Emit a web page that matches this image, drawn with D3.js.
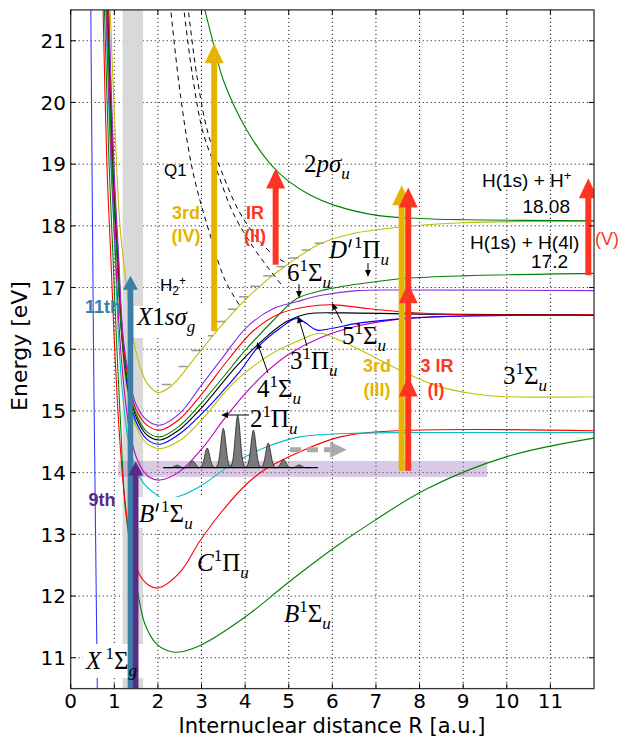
<!DOCTYPE html>
<html>
<head>
<meta charset="utf-8">
<script src="https://cdn.jsdelivr.net/npm/d3@7"></script>
<style>
  body { margin: 0; background: #fff; }
  svg { display: block; }
</style>
</head>
<body>
<script>
  // ---- data: [R (a.u.), E (eV)] ----
  const xGround = [[0.46,21.6],[0.5,18],[0.53,15.5],[0.57,13],[0.61,10.5]];
  const bState = [[0.77,21.6],[0.88,19],[0.97,17.5],[1.05,16.15],[1.15,14.7],[1.25,13.45],[1.47,12.36],[1.7,11.55],[1.97,11.22],[2.2,11.12],[2.43,11.09],[2.97,11.2],[4.0,11.66],[4.99,12.22],[6.02,12.77],[6.98,13.23],[8.17,13.74],[10,14.26],[12,14.56]];
  const cState = [[0.74,21.6],[0.83,19],[0.92,17.5],[1.0,16.15],[1.1,14.8],[1.22,13.7],[1.32,13.12],[1.45,12.62],[1.6,12.32],[1.8,12.17],[2.0,12.13],[2.5,12.38],[2.97,12.9],[3.42,13.33],[4.04,13.82],[4.5,14.07],[5.26,14.34],[6.18,14.58],[7.55,14.68],[12,14.68]];
  const bpState = [[0.8,21.6],[0.92,19],[1.02,17.5],[1.1,16.15],[1.2,15.2],[1.32,14.53],[1.5,14.05],[1.67,13.83],[1.93,13.66],[2.12,13.58],[2.5,13.62],[2.97,13.78],[3.73,14.15],[4.5,14.42],[5.26,14.58],[6.63,14.64],[8,14.65],[12,14.65]];
  const magState = [[0.81,21.6],[0.93,19],[1.03,17.5],[1.13,16.15],[1.25,15.2],[1.4,14.5],[1.6,14.1],[1.8,13.93],[2.05,13.88],[2.5,14.02],[3.0,14.38],[3.5,14.85],[4.0,15.28],[4.5,15.64],[5.0,15.92],[5.7,16.18],[6.6,16.38],[7.7,16.5],[9,16.54],[12,16.55]];
  const s3State = [[0.83,21.6],[0.95,19],[1.06,17.5],[1.17,16.15],[1.3,15.3],[1.5,14.75],[1.75,14.47],[2.05,14.39],[2.5,14.52],[2.97,14.83],[3.73,15.45],[4.5,15.88],[5.26,16.15],[5.72,16.26],[6.18,16.14],[6.94,15.88],[7.7,15.61],[8.47,15.39],[9.23,15.28],[10,15.23],[12,15.23]];
  const s4State = [[0.84,21.6],[0.96,19],[1.07,17.5],[1.18,16.15],[1.31,15.35],[1.5,14.82],[1.75,14.54],[2.05,14.46],[2.5,14.63],[3.04,14.98],[3.5,15.33],[3.88,15.64],[4.3,16.04],[4.8,16.34],[5.18,16.5],[5.4,16.42],[5.64,16.31],[6.0,16.34],[6.56,16.42],[7.7,16.5],[9,16.54],[12,16.55]];
  const p3State = [[0.85,21.6],[0.97,19],[1.08,17.5],[1.19,16.15],[1.32,15.4],[1.5,14.9],[1.75,14.61],[2.05,14.53],[2.5,14.7],[3.0,15.05],[3.81,15.73],[4.5,16.21],[4.95,16.45],[5.41,16.57],[6.18,16.59],[8,16.57],[12,16.56]];
  const dpState = [[0.83,21.6],[0.95,19],[1.06,17.5],[1.18,16.15],[1.31,15.45],[1.5,14.95],[1.75,14.66],[2.05,14.58],[2.5,14.76],[3.0,15.13],[3.5,15.55],[4.0,15.98],[4.65,16.47],[5.18,16.82],[5.87,16.97],[6.94,17.09],[7.7,17.15],[9,17.19],[12,17.23]];
  const s5State = [[0.86,21.6],[0.98,19],[1.09,17.5],[1.2,16.15],[1.33,15.5],[1.5,15.02],[1.75,14.77],[2.05,14.69],[2.5,14.87],[3.0,15.27],[3.61,15.83],[4.19,16.3],[4.8,16.58],[5.41,16.69],[6.02,16.72],[6.79,16.66],[7.7,16.6],[9,16.56],[12,16.56]];
  const s6State = [[0.87,21.6],[0.99,19],[1.1,17.5],[1.21,16.15],[1.34,15.55],[1.5,15.1],[1.75,14.85],[2.05,14.77],[2.5,14.96],[2.97,15.39],[3.5,15.88],[4.04,16.36],[4.65,16.66],[5.18,16.77],[5.72,16.87],[6.56,16.95],[7.7,16.96],[12,16.95]];
  const ionGround = [[0.9,21.6],[1.02,19.5],[1.13,18],[1.3,16.9],[1.44,16.15],[1.6,15.7],[1.75,15.45],[2.0,15.3],[2.3,15.4],[2.97,15.97],[3.5,16.42],[4.0,16.8],[4.5,17.12],[5.0,17.39],[5.72,17.71],[6.5,17.88],[7.55,17.98],[9,18.05],[12,18.08]];
  const ion2p = [[3.04,21.6],[3.27,20.96],[3.5,20.36],[4.04,19.55],[4.57,19.01],[5.0,18.72],[5.49,18.5],[6.02,18.34],[7.02,18.17],[8.01,18.12],[9,18.1],[12,18.08]];
  const q1a = [[2.28,21.6],[2.52,20.1],[2.81,18.85],[3.22,17.8],[3.54,17.12],[3.9,16.68]];
  const q1b = [[2.58,21.6],[2.8,20.4],[3.04,19.5],[3.35,18.9],[3.73,18.2],[4.19,17.65],[4.55,17.3],[4.85,17.03]];
  const q1c = [[2.68,21.6],[2.9,20.4],[3.15,19.5],[3.45,18.9],[3.85,18.25],[4.3,17.78],[4.7,17.5],[5.0,17.38]];

  const curves = [
    {pts: xGround, color: '#3a3aff'},
    {pts: bState, color: '#008000'},
    {pts: cState, color: '#ff0000'},
    {pts: bpState, color: '#00bfbf'},
    {pts: magState, color: '#bf00bf'},
    {pts: s3State, color: '#bfbf00'},
    {pts: ionGround, color: '#bfbf00'},
    {pts: ion2p, color: '#008000'},
    {pts: s4State, color: '#0000ff'},
    {pts: p3State, color: '#000000'},
    {pts: dpState, color: '#008000'},
    {pts: s5State, color: '#ff0000'},
    {pts: s6State, color: '#8a2be2'}
  ];
  const dashedCurves = [q1a, q1b, q1c];

  // H2+ vibrational level marks (right end on the curve)
  const ionLevelE = [15.43, 15.72, 15.98, 16.22, 16.45, 16.65, 16.85, 17.02, 17.19, 17.34, 17.48, 17.61, 17.72];
  const ionLevelR = [2.3, 2.68, 2.98, 3.27, 3.55, 3.81, 4.07, 4.33, 4.62, 4.92, 5.22, 5.5, 5.8];

  // wave packet
  const packetBase = 14.08;
  const packetR = [2.44, 2.8, 3.13, 3.5, 3.83, 4.19, 4.53, 4.88, 5.24];
  const packetH = [0.04, 0.11, 0.32, 0.64, 0.85, 0.61, 0.4, 0.13, 0.045];
  const packetRange = [2.12, 5.67];

  // photon arrows
  const arrowR    = [3.29, 4.7, 7.59, 7.74, 11.87];
  const arrowFrom = [16.29, 17.37, 14.03, 14.03, 17.2];
  const arrowTips = [[20.96], [18.93], [18.66], [18.62, 17.07, 15.56], [18.77]];
  const arrowKind = ['yellow', 'red', 'yellow', 'red', 'red'];
  const pulseR    = [1.37, 1.49];
  const pulseTip  = [17.19, 14.18];

  const xTicks = [0,1,2,3,4,5,6,7,8,9,10,11];
  const yTicks = [11,12,13,14,15,16,17,18,19,20,21];

  // ---- layout ----
  const W = 628, H = 738;
  const x = d3.scaleLinear().domain([0, 12]).range([70.7, 594]);
  const y = d3.scaleLinear().domain([10.5, 21.5]).range([688.6, 9.9]);

  const svg = d3.select('body').append('svg').attr('width', W).attr('height', H);
  svg.append('defs').append('clipPath').attr('id', 'plot')
    .append('rect').attr('x', x(0)).attr('y', y(21.5)).attr('width', x(12) - x(0)).attr('height', y(10.5) - y(21.5));

  const plot = svg.append('g').attr('clip-path', 'url(#plot)');

  // grid
  plot.selectAll('.gx').data(xTicks.slice(1)).enter().append('line')
    .attr('x1', d => x(d)).attr('x2', d => x(d)).attr('y1', y(21.5)).attr('y2', y(10.5))
    .attr('stroke', '#000').attr('stroke-width', 1).attr('stroke-dasharray', '1,3');
  plot.selectAll('.gy').data(yTicks).enter().append('line')
    .attr('y1', d => y(d)).attr('y2', d => y(d)).attr('x1', x(0)).attr('x2', x(12))
    .attr('stroke', '#000').attr('stroke-width', 1).attr('stroke-dasharray', '1,3');

  // shaded bands
  plot.append('rect').attr('x', x(1.19)).attr('width', x(1.66) - x(1.19))
    .attr('y', y(21.5)).attr('height', y(10.5) - y(21.5)).attr('fill', '#d9d9d9');
  plot.append('rect').attr('x', x(1.09)).attr('width', x(9.55) - x(1.09))
    .attr('y', y(14.19)).attr('height', y(13.93) - y(14.19)).attr('fill', 'rgba(160,120,190,0.4)');

  const line = d3.line().x(d => x(d[0])).y(d => y(d[1])).curve(d3.curveCatmullRom.alpha(0.5));

  plot.selectAll('.curve').data(curves).enter().append('path')
    .attr('d', d => line(d.pts)).attr('fill', 'none')
    .attr('stroke', d => d.color).attr('stroke-width', 1.1);

  plot.selectAll('.q1').data(dashedCurves).enter().append('path')
    .attr('d', d => line(d)).attr('fill', 'none')
    .attr('stroke', '#000').attr('stroke-width', 1).attr('stroke-dasharray', '5,4');

  // vibrational level marks of H2+
  plot.selectAll('.lvl').data(ionLevelE).enter().append('line')
    .attr('x1', (d, i) => x(ionLevelR[i]) - 9).attr('x2', (d, i) => x(ionLevelR[i]))
    .attr('y1', d => y(d)).attr('y2', d => y(d))
    .attr('stroke', '#999').attr('stroke-width', 1.5);

  // wave packet
  const sig = 0.08;
  packetR.forEach((r, i) => {
    const pts = d3.range(-3, 3.01, 0.25).map(k => [r + k * sig, packetBase + packetH[i] * Math.exp(-k * k)]);
    plot.append('path').attr('d', d3.line().x(d => x(d[0])).y(d => y(d[1]))(pts))
      .attr('fill', '#7a7a7a').attr('stroke', '#222').attr('stroke-width', 0.8);
  });
  plot.append('line').attr('x1', x(packetRange[0])).attr('x2', x(packetRange[1]))
    .attr('y1', y(packetBase)).attr('y2', y(packetBase)).attr('stroke', '#000').attr('stroke-width', 1.2);

  // gray dashed arrow
  plot.append('line').attr('x1', x(5.03)).attr('x2', x(5.95)).attr('y1', y(14.37)).attr('y2', y(14.37))
    .attr('stroke', '#aaa').attr('stroke-width', 5).attr('stroke-dasharray', '11,6');
  plot.append('path').attr('d', `M${x(5.95)},${y(14.37) - 8}L${x(6.33)},${y(14.37)}L${x(5.95)},${y(14.37) + 8}Z`)
    .attr('fill', '#aaa');

  // white label boxes
  const boxes = [[134, 306, 74, 32], [137, 497, 72, 31], [83, 644, 72, 34]];
  plot.selectAll('.box').data(boxes).enter().append('rect')
    .attr('x', d => d[0]).attr('y', d => d[1]).attr('width', d => d[2]).attr('height', d => d[3])
    .attr('fill', '#fff');

  // pulse arrows (11th / 9th)
  const pulseColor = ['#3b7ea8', '#5a2a84'];
  pulseR.forEach((r, i) => {
    const cx = x(r), tip = y(pulseTip[i]);
    plot.append('rect').attr('x', cx - 2.8).attr('width', 5.6).attr('y', tip + 12).attr('height', y(10.5) - tip)
      .attr('fill', pulseColor[i]);
    plot.append('path').attr('d', `M${cx - 7.5},${tip + 14}L${cx},${tip}L${cx + 7.5},${tip + 14}Z`).attr('fill', pulseColor[i]);
  });

  // photon arrows
  const kindColor = {yellow: '#e6b400', red: '#ff3524'};
  arrowR.forEach((r, i) => {
    const cx = x(r), col = kindColor[arrowKind[i]];
    const top = y(arrowTips[i][0]);
    plot.append('rect').attr('x', cx - 3).attr('width', 6).attr('y', top + 15).attr('height', y(arrowFrom[i]) - top - 15)
      .attr('fill', col);
    arrowTips[i].forEach(t => {
      const ty = y(t);
      plot.append('path').attr('d', `M${cx - 9.5},${ty + 20}L${cx},${ty}L${cx + 9.5},${ty + 20}Z`).attr('fill', col);
    });
  });

  // ---- labels ----
  const labels = svg.append('g');
  function mtext(px, py, parts, size) {
    const t = labels.append('text').attr('x', px).attr('y', py)
      .style('font-family', 'Liberation Serif, serif').style('font-size', size + 'px');
    let cur = 0;
    parts.forEach(p => {
      const off = p.sub ? size * 0.28 : p.sup ? -size * 0.4 : 0;
      t.append('tspan').attr('dy', off - cur)
        .style('font-style', p.i ? 'italic' : 'normal')
        .style('font-size', (p.sub || p.sup) ? (size * 0.68) + 'px' : null)
        .text(p.t);
      cur = off;
    });
    return t;
  }
  // letter followed by a prime: the prime is a short stroke placed after the first glyph
  function primeAfterFirst(t) {
    const box = t.node().getExtentOfChar(0);
    const px = box.x + box.width + 2;
    labels.append('line').attr('x1', px + 2).attr('y1', box.y + box.height * 0.12)
      .attr('x2', px).attr('y2', box.y + box.height * 0.42)
      .attr('stroke', '#000').attr('stroke-width', 1.6);
  }
  const SZ = 25;
  mtext(304, 172, [{t:'2'},{t:'pσ', i:1},{t:'u', i:1, sub:1}], SZ);
  primeAfterFirst(mtext(329, 258, [{t:'D', i:1},{t:'\u2009\u2009', sup:1},{t:'1', sup:1},{t:'Π'},{t:'u', i:1, sub:1}], SZ));
  mtext(287, 281, [{t:'6'},{t:'1', sup:1},{t:'Σ'},{t:'u', i:1, sub:1}], SZ);
  mtext(137, 325, [{t:'X', i:1},{t:'1'},{t:'sσ', i:1},{t:'g', i:1, sub:1}], SZ);
  mtext(342, 344, [{t:'5'},{t:'1', sup:1},{t:'Σ'},{t:'u', i:1, sub:1}], SZ);
  mtext(290, 369, [{t:'3'},{t:'1', sup:1},{t:'Π'},{t:'u', i:1, sub:1}], SZ);
  mtext(257, 397, [{t:'4'},{t:'1', sup:1},{t:'Σ'},{t:'u', i:1, sub:1}], SZ);
  mtext(503, 384, [{t:'3'},{t:'1', sup:1},{t:'Σ'},{t:'u', i:1, sub:1}], SZ);
  mtext(250, 427, [{t:'2'},{t:'1', sup:1},{t:'Π'},{t:'u', i:1, sub:1}], SZ);
  primeAfterFirst(mtext(139, 522, [{t:'B', i:1},{t:'\u2009\u2009', sup:1},{t:'1', sup:1},{t:'Σ'},{t:'u', i:1, sub:1}], SZ));
  mtext(197, 571, [{t:'C', i:1},{t:'1', sup:1},{t:'Π'},{t:'u', i:1, sub:1}], SZ);
  mtext(284, 622, [{t:'B', i:1},{t:'1', sup:1},{t:'Σ'},{t:'u', i:1, sub:1}], SZ);
  mtext(86, 669, [{t:'X', i:1},{t:' 1', sup:1},{t:'Σ'},{t:'g', i:1, sub:1}], SZ);

  // small annotation arrows
  const ann = [[368, 263, 368, 277], [299, 284, 299, 298], [342, 323, 332, 303], [307, 346, 298, 316], [268, 373, 257, 342], [249, 415, 221, 415]];
  ann.forEach(a => {
    const ang = Math.atan2(a[3] - a[1], a[2] - a[0]);
    const bx = a[2] - 7 * Math.cos(ang), by = a[3] - 7 * Math.sin(ang);
    labels.append('line').attr('x1', a[0]).attr('y1', a[1]).attr('x2', bx).attr('y2', by)
      .attr('stroke', '#000').attr('stroke-width', 1);
    const px = -Math.sin(ang) * 3, py = Math.cos(ang) * 3;
    labels.append('path').attr('d', `M${a[2]},${a[3]}L${bx + px},${by + py}L${bx - px},${by - py}Z`).attr('fill', '#000');
  });

  const sans = 'Liberation Sans, Arial, sans-serif';
  function stext(px, py, str, size, color, weight, anchor) {
    return labels.append('text').attr('x', px).attr('y', py).text(str)
      .style('font-family', sans).style('font-size', size + 'px')
      .style('fill', color).style('font-weight', weight || 'normal')
      .attr('text-anchor', anchor || 'start');
  }
  stext(164, 176, 'Q1', 17, '#000');
  const h2 = stext(160, 291, 'H', 17, '#000');
  h2.append('tspan').attr('dy', 4).style('font-size', '12px').text('2');
  h2.append('tspan').attr('dy', -10).style('font-size', '12px').text('+');

  const hp = stext(482, 187, 'H(1s) + H', 19, '#000');
  hp.append('tspan').attr('dy', -7).style('font-size', '13px').text('+');
  stext(570, 213, '18.08', 19, '#000', 'normal', 'end');
  stext(470, 249, 'H(1s) + H(4l)', 19, '#000');
  stext(568, 268, '17.2', 19, '#000', 'normal', 'end');

  const gold = '#e6b400', red = '#ff3524';
  stext(186, 219, '3rd', 18, gold, 'bold', 'middle');
  stext(186, 242, '(IV)', 18, gold, 'bold', 'middle');
  stext(255, 219, 'IR', 18, red, 'bold', 'middle');
  stext(255, 242, '(II)', 18, red, 'bold', 'middle');
  stext(377, 372, '3rd', 18, gold, 'bold', 'middle');
  stext(377, 396, '(III)', 18, gold, 'bold', 'middle');
  stext(437, 372, '3 IR', 18, red, 'bold', 'middle');
  stext(436, 396, '(I)', 18, red, 'bold', 'middle');
  stext(607, 245, '(V)', 18, red, 'normal', 'middle');
  stext(103, 313, '11th', 18, '#3b7ea8', 'bold', 'middle');
  stext(102, 506, '9th', 18, '#5a2a84', 'bold', 'middle');

  // ---- frame, ticks, labels ----
  const axes = svg.append('g');
  axes.append('rect').attr('x', x(0)).attr('y', y(21.5)).attr('width', x(12) - x(0)).attr('height', y(10.5) - y(21.5))
    .attr('fill', 'none').attr('stroke', '#333').attr('stroke-width', 1.3);
  xTicks.forEach(t => {
    axes.append('line').attr('x1', x(t)).attr('x2', x(t)).attr('y1', y(10.5)).attr('y2', y(10.5) - 5).attr('stroke', '#000');
    axes.append('line').attr('x1', x(t)).attr('x2', x(t)).attr('y1', y(21.5)).attr('y2', y(21.5) + 5).attr('stroke', '#000');
  });
  yTicks.forEach(t => {
    axes.append('line').attr('y1', y(t)).attr('y2', y(t)).attr('x1', x(0)).attr('x2', x(0) + 5).attr('stroke', '#000');
    axes.append('line').attr('y1', y(t)).attr('y2', y(t)).attr('x1', x(12)).attr('x2', x(12) - 5).attr('stroke', '#000');
  });
  const tickFont = 'DejaVu Sans, sans-serif';
  axes.selectAll('.xt').data(xTicks).enter().append('text')
    .attr('x', d => x(d)).attr('y', 708).attr('text-anchor', 'middle')
    .style('font-family', tickFont).style('font-size', '20px').text(d => d);
  axes.selectAll('.yt').data(yTicks).enter().append('text')
    .attr('x', 66).attr('y', d => y(d)).attr('dy', '0.36em').attr('text-anchor', 'end')
    .style('font-family', tickFont).style('font-size', '20px').text(d => d);
  axes.append('text').attr('x', 332).attr('y', 733).attr('text-anchor', 'middle')
    .style('font-family', tickFont).style('font-size', '21px').text('Internuclear distance R [a.u.]');
  axes.append('text').attr('transform', 'translate(27,346) rotate(-90)').attr('text-anchor', 'middle')
    .style('font-family', tickFont).style('font-size', '22px').text('Energy [eV]');
</script>
</body>
</html>
